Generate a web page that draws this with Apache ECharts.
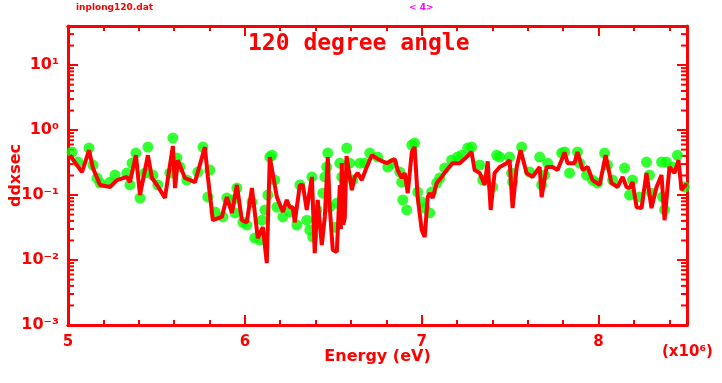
<!DOCTYPE html>
<html>
<head>
<meta charset="utf-8">
<script src="https://cdn.jsdelivr.net/npm/echarts@6/dist/echarts.min.js"></script>
<style>
  html, body { margin: 0; padding: 0; background: #fff; }
  #chart { width: 722px; height: 383px; }
</style>
</head>
<body>
<div id="chart"></div>
<script>
// calculated cross section (red line), energy in units of 1e6 eV
var lineX = [5.011, 5.079, 5.119, 5.141, 5.181, 5.237, 5.277, 5.333, 5.350, 5.384, 5.407, 5.452, 5.475, 5.503,
  5.548, 5.593, 5.605, 5.621, 5.661, 5.718, 5.774, 5.791, 5.819, 5.870, 5.898, 5.927, 5.955, 5.983, 6.011,
  6.040, 6.073, 6.102, 6.124, 6.141, 6.181, 6.215, 6.237, 6.254, 6.271, 6.282, 6.311, 6.328, 6.350, 6.379,
  6.395, 6.412, 6.435, 6.452, 6.469, 6.480, 6.497, 6.520, 6.537, 6.543, 6.548, 6.556, 6.565, 6.575, 6.582,
  6.605, 6.621, 6.638, 6.661, 6.689, 6.718, 6.763, 6.802, 6.847, 6.864, 6.887, 6.904, 6.921, 6.944, 6.960,
  6.977, 7.000, 7.017, 7.034, 7.045, 7.062, 7.085, 7.113, 7.141, 7.175, 7.215, 7.254, 7.282, 7.299, 7.328,
  7.356, 7.373, 7.390, 7.412, 7.441, 7.480, 7.497, 7.514, 7.537, 7.559, 7.593, 7.627, 7.667, 7.678, 7.706,
  7.740, 7.768, 7.808, 7.825, 7.864, 7.881, 7.910, 7.938, 7.966, 8.006, 8.040, 8.073, 8.107, 8.136, 8.158,
  8.175, 8.192, 8.215, 8.243, 8.271, 8.299, 8.328, 8.356, 8.373, 8.401, 8.429, 8.452, 8.469, 8.497];
var lineY = [0.41, 0.226, 0.49, 0.26, 0.143, 0.133, 0.17, 0.19, 0.158, 0.41, 0.1, 0.41, 0.183, 0.143,
  0.09, 0.57, 0.128, 0.345, 0.183, 0.158, 0.547, 0.19, 0.041, 0.046, 0.093, 0.053, 0.143, 0.041, 0.038,
  0.128, 0.0218, 0.032, 0.009, 0.385, 0.093, 0.055, 0.084, 0.065, 0.065, 0.038, 0.143, 0.143, 0.059, 0.19,
  0.0128, 0.084, 0.017, 0.046, 0.385, 0.065, 0.0143, 0.0133, 0.143, 0.03, 0.31, 0.035, 0.044, 0.4, 0.385,
  0.119, 0.19, 0.218, 0.17, 0.27, 0.41, 0.345, 0.31, 0.36, 0.243, 0.183, 0.218, 0.107, 0.46, 0.547,
  0.093, 0.029, 0.0226, 0.093, 0.107, 0.09, 0.153, 0.19, 0.243, 0.31, 0.31, 0.385, 0.46, 0.243, 0.218,
  0.143, 0.33, 0.059, 0.218, 0.27, 0.31, 0.345, 0.063, 0.27, 0.49, 0.218, 0.19, 0.27, 0.093, 0.27,
  0.27, 0.243, 0.45, 0.31, 0.31, 0.46, 0.243, 0.27, 0.17, 0.143, 0.41, 0.153, 0.133, 0.19, 0.133,
  0.128, 0.158, 0.065, 0.063, 0.218, 0.063, 0.133, 0.203, 0.041, 0.27, 0.218, 0.345, 0.119, 0.15];

// measured points (green dots)
var dotX = [5.023, 5.056, 5.119, 5.141, 5.164, 5.181, 5.237, 5.266, 5.333, 5.350, 5.362, 5.384, 5.407, 5.435,
  5.452, 5.480, 5.508, 5.576, 5.593, 5.616, 5.633, 5.672, 5.734, 5.763, 5.802, 5.791, 5.831, 5.876, 5.898,
  5.932, 5.944, 5.955, 5.989, 6.011, 6.040, 6.056, 6.085, 6.096, 6.113, 6.130, 6.141, 6.153, 6.169, 6.181,
  6.215, 6.254, 6.294, 6.311, 6.350, 6.367, 6.379, 6.384, 6.407, 6.441, 6.452, 6.463, 6.469, 6.480, 6.508,
  6.520, 6.537, 6.548, 6.576, 6.593, 6.610, 6.650, 6.678, 6.706, 6.751, 6.808, 6.836, 6.876, 6.887, 6.893,
  6.915, 6.944, 6.960, 6.977, 7.000, 7.017, 7.045, 7.056, 7.085, 7.102, 7.130, 7.169, 7.203, 7.226, 7.260,
  7.282, 7.328, 7.345, 7.401, 7.424, 7.441, 7.497, 7.508, 7.514, 7.565, 7.610, 7.667, 7.678, 7.695, 7.712,
  7.791, 7.808, 7.836, 7.881, 7.893, 7.932, 7.966, 7.994, 8.034, 8.051, 8.079, 8.147, 8.175, 8.192, 8.232,
  8.271, 8.288, 8.299, 8.356, 8.362, 8.373, 8.384, 8.418, 8.446, 8.486];
var dotY = [0.46, 0.322, 0.528, 0.29, 0.183, 0.153, 0.158, 0.203, 0.218, 0.143, 0.31, 0.443, 0.09, 0.218,
  0.547, 0.203, 0.143, 0.218, 0.753, 0.371, 0.27, 0.17, 0.226, 0.547, 0.243, 0.093, 0.055, 0.046, 0.09,
  0.084, 0.053, 0.128, 0.038, 0.0345, 0.078, 0.0218, 0.0203, 0.041, 0.059, 0.1, 0.385, 0.41, 0.17, 0.065,
  0.046, 0.055, 0.0345, 0.143, 0.041, 0.029, 0.19, 0.0226, 0.059, 0.107, 0.19, 0.27, 0.443, 0.065, 0.032,
  0.075, 0.31, 0.19, 0.528, 0.31, 0.17, 0.31, 0.31, 0.443, 0.385, 0.27, 0.31, 0.226, 0.158, 0.084,
  0.059, 0.587, 0.63, 0.111, 0.078, 0.063, 0.053, 0.111, 0.153, 0.183, 0.26, 0.345, 0.385, 0.41, 0.528,
  0.547, 0.29, 0.17, 0.133, 0.41, 0.385, 0.385, 0.218, 0.158, 0.547, 0.226, 0.385, 0.143, 0.203, 0.31,
  0.443, 0.46, 0.218, 0.46, 0.31, 0.203, 0.17, 0.153, 0.443, 0.29, 0.17, 0.26, 0.1, 0.17, 0.093,
  0.322, 0.203, 0.107, 0.322, 0.093, 0.059, 0.322, 0.27, 0.41, 0.133];

// minor log ticks between the decades
var yMinor = [0.002, 0.003, 0.004, 0.005, 0.006, 0.007, 0.008, 0.009,
  0.02, 0.03, 0.04, 0.05, 0.06, 0.07, 0.08, 0.09,
  0.2, 0.3, 0.4, 0.5, 0.6, 0.7, 0.8, 0.9,
  2, 3, 4, 5, 6, 7, 8, 9, 20, 30];

var red = '#ff0000';
var font = 'DejaVu Sans';
var sup = { '-': '\u207B', '0': '\u2070', '1': '\u00B9', '2': '\u00B2', '3': '\u00B3' };

function pairs(xs, ys) {
  return xs.map(function(x, i) { return [x, ys[i]]; });
}

function expLabel(v) {
  var e = String(Math.round(Math.log(v) / Math.LN10));
  return '10' + e.split('').map(function(c) { return sup[c]; }).join('');
}

function xAxisDef(pos, major) {
  var a = {
    type: 'value', position: pos, min: 5, max: 8.5,
    interval: major ? 1 : 0.2,
    axisLine: { show: true, onZero: false, lineStyle: { color: red, width: 3 } },
    axisTick: { show: true, inside: true, length: major ? 10 : 5, lineStyle: { color: red, width: 2 } },
    axisLabel: {
      show: major && pos === 'bottom', showMaxLabel: false, color: red,
      fontFamily: font, fontWeight: 'bold', fontSize: 15, margin: 10
    },
    splitLine: { show: false }
  };
  if (major && pos === 'bottom') {
    a.name = 'Energy (eV)';
    a.nameLocation = 'middle';
    a.nameGap = 24;
    a.nameMoveOverlap = false;
    a.nameTextStyle = { color: red, fontFamily: font, fontWeight: 'bold', fontSize: 16 };
  }
  return a;
}

function yAxisDef(pos) {
  var a = {
    type: 'log', position: pos, min: 0.001, max: 40,
    axisLine: { show: true, lineStyle: { color: red, width: 3 } },
    axisTick: { show: true, inside: true, length: 10, lineStyle: { color: red, width: 2 } },
    axisLabel: {
      show: pos === 'left', showMaxLabel: false, margin: 9, formatter: expLabel,
      color: red, fontFamily: font, fontWeight: 'bold', fontSize: 16
    },
    splitLine: { show: false }
  };
  if (pos === 'left') {
    a.name = 'ddxsec';
    a.nameLocation = 'middle';
    a.nameGap = 44;
    a.nameMoveOverlap = false;
    a.nameTextStyle = { color: red, fontFamily: font, fontWeight: 'bold', fontSize: 16 };
  }
  return a;
}

// short inward ticks on both sides at the minor log values
function minorTicks(params, api) {
  var y = api.coord([api.value(0), api.value(1)])[1];
  var cs = params.coordSys;
  var st = { stroke: red, lineWidth: 2 };
  return {
    type: 'group',
    children: [
      { type: 'line', shape: { x1: cs.x, y1: y, x2: cs.x + 6, y2: y }, style: st },
      { type: 'line', shape: { x1: cs.x + cs.width - 6, y1: y, x2: cs.x + cs.width, y2: y }, style: st }
    ]
  };
}

var chart = echarts.init(document.getElementById('chart'));
chart.setOption({
  animation: false,
  grid: { left: 68, right: 35, top: 26, bottom: 58, outerBoundsMode: 'none' },
  xAxis: [xAxisDef('bottom', true), xAxisDef('bottom', false), xAxisDef('top', true), xAxisDef('top', false)],
  yAxis: [yAxisDef('left'), yAxisDef('right')],
  graphic: [
    { type: 'text', left: 248, top: 33,
      style: { text: '120 degree angle', fill: red, font: 'bold 23px "DejaVu Sans Mono"' } },
    { type: 'text', left: 76, top: 3,
      style: { text: 'inplong120.dat', fill: red, font: 'bold 9px "DejaVu Sans"' } },
    { type: 'text', left: 409, top: 3,
      style: { text: '< 4>', fill: '#ff00ff', font: 'bold 9px "DejaVu Sans"' } },
    { type: 'text', left: 662, top: 345,
      style: { text: '(x10\u2076)', fill: red, font: 'bold 15px "DejaVu Sans"' } }
  ],
  series: [
    {
      name: 'minor', type: 'custom',
      data: yMinor.map(function(v) { return [5, v]; }),
      renderItem: minorTicks, silent: true, clip: false
    },
    {
      name: 'data', type: 'scatter',
      data: pairs(dotX, dotY), symbol: 'circle', symbolSize: 11,
      itemStyle: { color: '#00ff00' }
    },
    {
      name: 'calc', type: 'line',
      data: pairs(lineX, lineY), showSymbol: false, symbol: 'none',
      lineStyle: { color: red, width: 4 }
    }
  ]
});
</script>
</body>
</html>
